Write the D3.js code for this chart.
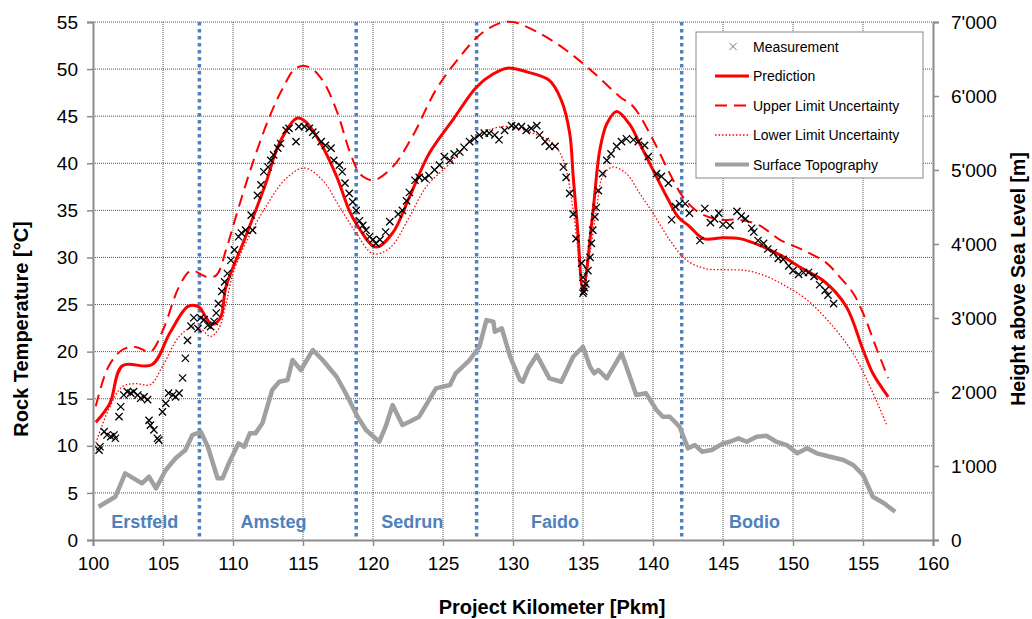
<!DOCTYPE html>
<html>
<head>
<meta charset="utf-8">
<script src="https://cdn.jsdelivr.net/npm/d3@7"></script>
<style>
  body { margin: 0; background: #fff; }
  svg { font-family: "Liberation Sans", Arial, sans-serif; }
</style>
</head>
<body>
<div id="chart"></div>
<script>
// ---- data ----
const tempTicks = [0, 5, 10, 15, 20, 25, 30, 35, 40, 45, 50, 55]
const heightTicks = [0, 1000, 2000, 3000, 4000, 5000, 6000, 7000]
const kmTicks = [100, 105, 110, 115, 120, 125, 130, 135, 140, 145, 150, 155, 160]

// section boundaries [Pkm] and section names
const boundaries = [107.6, 118.8, 127.4, 142.05]
const sections = [
  { name: "Erstfeld", km: 103.7 },
  { name: "Amsteg", km: 112.9 },
  { name: "Sedrun", km: 122.8 },
  { name: "Faido", km: 133.0 },
  { name: "Bodio", km: 147.25 }
]

// measured rock temperature [km, °C]
const measurement = [
  [100.43, 9.55], [100.5, 9.9], [100.8, 11.5], [101.0, 11.15], [101.27, 10.97], [101.5, 11.15],
  [101.6, 10.8], [101.86, 13.1], [101.98, 14.15], [102.2, 15.4], [102.45, 15.75], [102.7, 15.6],
  [102.9, 15.75], [103.2, 15.4], [103.4, 15.05], [103.65, 15.2], [103.9, 14.9], [104.0, 12.7],
  [104.1, 12.2], [104.35, 11.7], [104.6, 10.8], [104.7, 10.6], [104.96, 13.6], [105.2, 14.5],
  [105.4, 15.6], [105.7, 15.4], [105.9, 15.2], [106.15, 15.6], [106.4, 17.2], [106.6, 19.3],
  [106.75, 21.2], [107.0, 22.7], [107.2, 23.6], [107.5, 22.45], [107.7, 23.6], [107.94, 23.4],
  [108.2, 22.8], [108.4, 22.65], [108.65, 23.2], [108.8, 24.1], [108.96, 25.1], [109.2, 26.4],
  [109.4, 27.4], [109.6, 28.3], [109.85, 29.7], [110.1, 30.8], [110.4, 32.2], [110.6, 32.6],
  [110.9, 32.9], [111.4, 32.9], [111.3, 34.5], [111.75, 36.6], [112.0, 37.7], [112.2, 39.1],
  [112.5, 39.6], [112.7, 40.3], [112.9, 40.9], [113.2, 41.6], [113.4, 42.1], [113.8, 43.5],
  [114.0, 43.7], [114.5, 42.3], [114.7, 43.9], [115.1, 43.9], [115.45, 43.7], [115.7, 43.3],
  [115.9, 43.0], [116.3, 42.3], [116.6, 41.9], [117.0, 41.6], [117.2, 40.3], [117.6, 39.8],
  [117.8, 39.1], [118.0, 37.9], [118.3, 36.8], [118.55, 35.9], [118.8, 35.0], [119.03, 33.9],
  [119.27, 33.4], [119.5, 32.9], [119.75, 32.2], [120.0, 31.9], [120.2, 31.5], [120.5, 31.9],
  [120.9, 32.7], [121.2, 33.8], [121.8, 34.6], [122.1, 35.0], [122.4, 36.0], [122.6, 36.9],
  [123.0, 38.2], [123.3, 38.5], [123.7, 38.4], [124.0, 38.7], [124.4, 39.3], [124.75, 39.8],
  [125.1, 40.7], [125.5, 40.3], [125.8, 41.0], [126.2, 41.2], [126.5, 41.7], [126.9, 42.3],
  [127.25, 42.6], [127.6, 43.0], [127.95, 43.2], [128.3, 43.2], [128.7, 43.0], [129.0, 42.5],
  [129.4, 43.5], [129.9, 44.0], [130.2, 43.9], [130.6, 43.9], [130.95, 43.5], [131.3, 43.7],
  [131.7, 44.0], [131.9, 43.0], [132.3, 42.3], [132.6, 41.8], [133.0, 41.8], [133.6, 39.6],
  [133.8, 38.5], [134.05, 36.8], [134.3, 34.6], [134.5, 32.0], [134.9, 29.4], [135.0, 27.9],
  [135.05, 26.4], [135.1, 26.8], [135.0, 26.2], [135.2, 27.2], [135.35, 28.6], [135.5, 30.0],
  [135.6, 31.5], [135.7, 32.9], [135.85, 34.3], [135.95, 35.3], [136.1, 37.1], [136.4, 38.9],
  [136.7, 40.3], [137.0, 41.0], [137.4, 41.8], [137.75, 42.3], [138.1, 42.6], [138.6, 42.5],
  [138.95, 42.3], [139.4, 41.9], [139.66, 40.7], [140.25, 38.9], [140.6, 38.6], [141.1, 37.9],
  [141.33, 34.0], [141.6, 35.4], [141.9, 35.7], [142.3, 35.7], [142.6, 34.7], [143.35, 31.8],
  [143.7, 35.2], [144.1, 33.7], [144.4, 34.1], [144.7, 34.7], [145.0, 33.5], [145.5, 33.4],
  [146.0, 34.9], [146.3, 34.4], [146.6, 34.1], [147.05, 33.1], [147.2, 32.7], [147.5, 31.8],
  [147.9, 31.5], [148.2, 30.9], [148.6, 30.5], [148.95, 29.9], [149.3, 29.8], [149.7, 29.1],
  [150.0, 28.6], [150.4, 28.2], [150.75, 28.4], [151.1, 28.4], [151.5, 28.0], [151.9, 27.1],
  [152.3, 26.5], [152.5, 26.0], [152.9, 25.1]
]

// predicted rock temperature [km, °C]
const prediction = [
  [100.2, 12.5], [101.2, 14.5], [102.1, 18.5], [104.2, 18.6], [105.5, 22.0], [106.8, 24.8],
  [107.6, 24.7], [108.0, 23.8], [108.5, 22.9], [109.1, 23.6], [109.5, 26.9], [110.9, 32.2],
  [112.35, 37.9], [113.3, 42.1], [114.6, 44.8], [115.2, 44.4], [116.2, 42.3], [117.4, 38.6],
  [118.3, 35.0], [118.8, 33.6], [120.2, 31.1], [121.4, 32.6], [122.6, 36.4], [124.0, 41.0],
  [125.7, 44.6], [127.4, 48.1], [128.6, 49.5], [129.6, 50.1], [131.0, 49.7], [132.6, 48.8],
  [133.45, 46.7], [134.05, 43.2], [134.3, 38.6], [134.6, 33.3], [135.0, 26.6], [135.7, 34.7],
  [136.2, 41.4], [136.7, 44.2], [137.4, 45.5], [138.3, 44.2], [139.05, 42.1], [140.0, 39.3],
  [141.0, 36.4], [141.8, 34.3], [142.6, 33.3], [143.6, 32.0], [145.0, 32.1], [146.2, 32.0],
  [147.6, 31.3], [149.1, 30.25], [150.7, 28.8], [152.2, 27.5], [153.8, 24.8], [155.0, 20.2],
  [155.7, 17.7], [156.8, 15.2]
]

// upper limit of uncertainty [km, °C]
const upperLimit = [
  [100.2, 14.2], [101.1, 18.4], [102.1, 20.2], [103.05, 20.5], [104.1, 20.0], [105.0, 22.3],
  [106.15, 26.9], [107.0, 28.6], [108.1, 27.95], [108.8, 28.1], [109.5, 30.8], [110.2, 34.3],
  [111.4, 40.0], [112.6, 44.9], [113.5, 47.8], [114.5, 50.1], [115.45, 50.2], [116.4, 48.8],
  [117.4, 45.6], [118.3, 41.4], [119.0, 39.0], [119.5, 38.4], [120.1, 38.2], [121.4, 39.6],
  [122.8, 42.8], [124.5, 47.8], [126.2, 51.3], [127.6, 53.6], [129.0, 54.85], [130.0, 55.0],
  [131.9, 53.8], [133.8, 52.0], [135.7, 49.7], [137.6, 47.1], [138.6, 46.0], [140.0, 42.5],
  [141.2, 38.9], [142.15, 36.4], [143.35, 34.7], [144.8, 34.0], [146.2, 34.0], [147.6, 33.4],
  [149.1, 31.85], [150.7, 30.8], [152.4, 29.4], [153.3, 28.0], [154.3, 26.2], [155.0, 24.1],
  [156.0, 20.2], [156.8, 17.2]
]

// lower limit of uncertainty [km, °C]
const lowerLimit = [
  [100.2, 10.3], [101.1, 13.8], [102.1, 16.3], [103.05, 16.6], [104.1, 16.5], [104.95, 18.4],
  [106.15, 21.6], [107.1, 22.6], [107.8, 22.3], [108.4, 21.6], [109.0, 22.5], [109.5, 25.1],
  [110.0, 28.3], [110.9, 31.5], [112.35, 35.4], [113.8, 38.4], [115.1, 39.5], [116.4, 38.2],
  [117.6, 35.4], [118.8, 32.6], [120.0, 30.4], [121.2, 31.0], [122.6, 34.3], [123.8, 37.5],
  [125.5, 40.0], [127.1, 42.5], [128.6, 43.7], [129.75, 43.9], [131.4, 43.2], [132.85, 42.1],
  [133.6, 40.3], [134.2, 36.0], [134.7, 30.0], [135.0, 26.3], [135.5, 30.5], [136.0, 35.5],
  [136.4, 38.6], [137.1, 39.6], [138.1, 38.9], [139.05, 36.8], [140.0, 34.7], [141.2, 31.85],
  [142.4, 29.7], [143.8, 28.8], [145.25, 28.7], [146.7, 28.6], [148.1, 28.0], [149.55, 26.9],
  [151.0, 25.5], [152.9, 22.6], [154.3, 19.8], [155.5, 16.3], [156.7, 12.2]
]

// surface topography [km, m a.s.l.]
const topography = [
  [100.4, 450], [101.6, 585], [102.3, 900], [103.5, 766], [104.0, 855], [104.5, 698],
  [105.2, 946], [105.9, 1104], [106.6, 1216], [107.1, 1419], [107.7, 1463], [108.2, 1260],
  [108.9, 834], [109.25, 834], [109.7, 1036], [110.4, 1306], [110.8, 1260], [111.2, 1441],
  [111.6, 1441], [112.1, 1577], [112.8, 2027], [113.3, 2139], [113.9, 2162], [114.25, 2432],
  [114.85, 2297], [115.7, 2567], [116.4, 2432], [117.4, 2206], [117.8, 2071], [118.3, 1891],
  [118.9, 1666], [119.5, 1486], [120.45, 1328], [120.9, 1531], [121.4, 1824], [122.1, 1554],
  [122.6, 1598], [123.3, 1666], [124.5, 2049], [125.5, 2094], [125.9, 2252], [126.9, 2432],
  [127.6, 2611], [128.1, 2972], [128.6, 2949], [128.7, 2814], [129.2, 2860], [129.8, 2476],
  [130.5, 2162], [130.7, 2139], [131.1, 2320], [131.7, 2499], [132.6, 2185], [133.45, 2139],
  [134.3, 2476], [135.0, 2611], [135.5, 2341], [135.8, 2252], [136.1, 2297], [136.7, 2185],
  [137.75, 2522], [138.1, 2341], [138.8, 1959], [139.5, 1982], [140.25, 1756], [140.7, 1666],
  [141.2, 1666], [141.9, 1531], [142.5, 1239], [143.0, 1283], [143.5, 1193], [144.2, 1216],
  [145.0, 1306], [145.5, 1328], [146.1, 1374], [146.7, 1328], [147.4, 1396], [148.1, 1409],
  [148.8, 1328], [149.55, 1283], [150.3, 1171], [151.0, 1239], [151.7, 1171], [152.65, 1125],
  [153.6, 1081], [154.3, 1013], [155.0, 878], [155.7, 585], [156.5, 496], [157.3, 382]
]

// ---- layout ----
const width = 1032, height = 619
const margin = { top: 22, right: 99, bottom: 79, left: 93 }
const innerW = width - margin.left - margin.right
const innerH = height - margin.top - margin.bottom

const svg = d3.select("#chart").append("svg")
  .attr("width", width)
  .attr("height", height)

const g = svg.append("g").attr("transform", `translate(${margin.left},${margin.top})`)

const x = d3.scaleLinear().domain([100, 160]).range([0, innerW])
const yT = d3.scaleLinear().domain([0, 55]).range([innerH, 0])
const yH = d3.scaleLinear().domain([0, 7000]).range([innerH, 0])

const red = "#ff0000"
const blue = "#4f81bd"
const axisGrey = "#8c8c8c"

// grid
g.append("g").selectAll("line")
  .data(tempTicks.filter(d => d > 0))
  .join("line")
  .attr("x1", 0).attr("x2", innerW)
  .attr("y1", d => yT(d)).attr("y2", d => yT(d))
  .attr("stroke", "#555").attr("stroke-width", 1).attr("stroke-dasharray", "1,1")

g.append("g").selectAll("line")
  .data(kmTicks.filter(d => d > 100 && d < 160))
  .join("line")
  .attr("x1", d => x(d)).attr("x2", d => x(d))
  .attr("y1", 0).attr("y2", innerH)
  .attr("stroke", "#555").attr("stroke-width", 1).attr("stroke-dasharray", "1,1")

// section boundaries
g.append("g").selectAll("line")
  .data(boundaries)
  .join("line")
  .attr("x1", d => x(d)).attr("x2", d => x(d))
  .attr("y1", 0).attr("y2", innerH)
  .attr("stroke", blue).attr("stroke-width", 3.5).attr("stroke-dasharray", "3.5,3.5")

g.append("g").selectAll("text")
  .data(sections)
  .join("text")
  .attr("x", d => x(d.km))
  .attr("y", innerH - 12)
  .attr("text-anchor", "middle")
  .attr("fill", blue)
  .attr("font-size", 18)
  .attr("font-weight", "bold")
  .text(d => d.name)

// axes
const fmtH = d => d3.format(",")(d).replace(/,/g, "'")

const styleAxis = sel => {
  sel.select(".domain").attr("stroke", axisGrey).attr("stroke-width", 2)
  sel.selectAll(".tick line").attr("stroke", axisGrey).attr("stroke-width", 1.5)
  sel.selectAll(".tick text").attr("fill", "#000").attr("font-size", 19)
    .attr("font-family", "'Liberation Sans', Arial, sans-serif")
}

g.append("g")
  .attr("transform", `translate(0,${innerH})`)
  .call(d3.axisBottom(x).tickValues(kmTicks).tickSizeOuter(0).tickSize(6).tickPadding(11))
  .call(styleAxis)

g.append("g")
  .call(d3.axisLeft(yT).tickValues(tempTicks).tickSizeOuter(0).tickSize(6).tickPadding(9))
  .call(styleAxis)

g.append("g")
  .attr("transform", `translate(${innerW},0)`)
  .call(d3.axisRight(yH).tickValues(heightTicks).tickFormat(fmtH).tickSizeOuter(0).tickSize(6).tickPadding(12))
  .call(styleAxis)

// axis titles
svg.append("text")
  .attr("transform", `translate(28,329) rotate(-90)`)
  .attr("text-anchor", "middle")
  .attr("font-size", 20).attr("font-weight", "bold")
  .text("Rock Temperature [°C]")

svg.append("text")
  .attr("transform", `translate(1025,279) rotate(-90)`)
  .attr("text-anchor", "middle")
  .attr("font-size", 19.5).attr("font-weight", "bold")
  .text("Height above Sea Level [m]")

svg.append("text")
  .attr("x", 552).attr("y", 614)
  .attr("text-anchor", "middle")
  .attr("font-size", 20).attr("font-weight", "bold")
  .text("Project Kilometer [Pkm]")

// series
const lineT = d3.line().x(d => x(d[0])).y(d => yT(d[1])).curve(d3.curveCatmullRom.alpha(0.5))
const lineH = d3.line().x(d => x(d[0])).y(d => yH(d[1]))

g.append("path").datum(topography)
  .attr("d", lineH).attr("fill", "none")
  .attr("stroke", "#a0a0a0").attr("stroke-width", 4.5).attr("stroke-linejoin", "round")

g.append("path").datum(lowerLimit)
  .attr("d", lineT).attr("fill", "none")
  .attr("stroke", red).attr("stroke-width", 1.3).attr("stroke-dasharray", "1.5,2")

g.append("path").datum(upperLimit)
  .attr("d", lineT).attr("fill", "none")
  .attr("stroke", red).attr("stroke-width", 2).attr("stroke-dasharray", "12,7")

g.append("path").datum(prediction)
  .attr("d", lineT).attr("fill", "none")
  .attr("stroke", red).attr("stroke-width", 3).attr("stroke-linejoin", "round")

const cross = d3.symbol().type(d3.symbolTimes).size(36)
g.append("g").selectAll("path")
  .data(measurement)
  .join("path")
  .attr("transform", d => `translate(${x(d[0])},${yT(d[1])})`)
  .attr("d", cross)
  .attr("fill", "none").attr("stroke", "#000").attr("stroke-width", 1.3)

// legend
const legendItems = [
  { label: "Measurement", kind: "marker" },
  { label: "Prediction", kind: "solid" },
  { label: "Upper Limit Uncertainty", kind: "dashed" },
  { label: "Lower Limit Uncertainty", kind: "dotted" },
  { label: "Surface Topography", kind: "topo" }
]

const legend = svg.append("g").attr("transform", "translate(696,32)")
legend.append("rect")
  .attr("width", 227).attr("height", 146)
  .attr("fill", "#fff").attr("stroke", "#888").attr("stroke-width", 1)

const li = legend.selectAll("g.item")
  .data(legendItems)
  .join("g")
  .attr("class", "item")
  .attr("transform", (d, i) => `translate(0,${14.5 + i * 29.5})`)

li.each(function (d) {
  const s = d3.select(this)
  if (d.kind === "marker") {
    s.append("path").attr("transform", "translate(37,0)").attr("d", cross)
      .attr("fill", "none").attr("stroke", "#777").attr("stroke-width", 1)
  } else {
    const ln = s.append("line").attr("x1", 19).attr("x2", 53).attr("y1", 0).attr("y2", 0)
    if (d.kind === "solid") ln.attr("stroke", red).attr("stroke-width", 3)
    if (d.kind === "dashed") ln.attr("stroke", red).attr("stroke-width", 2).attr("stroke-dasharray", "12,7")
    if (d.kind === "dotted") ln.attr("stroke", red).attr("stroke-width", 1.3).attr("stroke-dasharray", "1.5,2")
    if (d.kind === "topo") ln.attr("stroke", "#a0a0a0").attr("stroke-width", 4)
  }
  s.append("text").attr("x", 57).attr("y", 5)
    .attr("font-size", 14).attr("fill", "#000").text(d.label)
})
</script>
</body>
</html>
